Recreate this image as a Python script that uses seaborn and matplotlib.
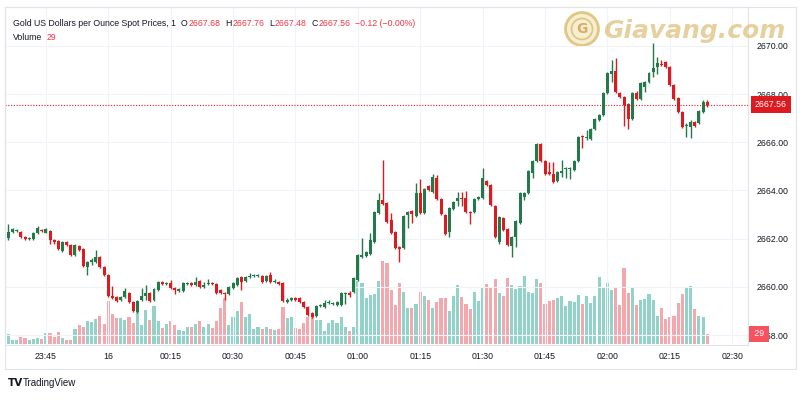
import numpy as np
import pandas as pd
import matplotlib
matplotlib.use('Agg')
import matplotlib.pyplot as plt
import matplotlib.patches as mpatches
import seaborn as sns

# 1-minute candles, 23:36 -> 02:24
opens = [2662.03, 2662.27, 2662.30, 2662.27, 2662.07, 2661.98, 2662.00, 2662.23, 2662.38, 2662.25,
         2662.30, 2661.96, 2661.90, 2661.49, 2661.88, 2661.74, 2661.32, 2661.69, 2661.57, 2660.82,
         2661.03, 2661.03, 2661.24, 2660.82, 2660.49, 2659.62, 2659.58, 2659.45, 2659.58, 2659.74,
         2659.37, 2658.95, 2659.45, 2659.62, 2659.74, 2659.45, 2659.87, 2660.20, 2660.12, 2660.16,
         2659.95, 2659.83, 2659.83, 2660.12, 2660.16, 2660.08, 2660.24, 2659.99, 2660.12, 2660.16,
         2660.12, 2659.87, 2659.74, 2659.70, 2659.95, 2660.08, 2660.41, 2660.24, 2660.41, 2660.45,
         2660.45, 2660.45, 2660.24, 2660.49, 2660.20, 2660.20, 2660.16, 2659.37, 2659.45, 2659.54,
         2659.54, 2659.37, 2659.16, 2658.91, 2658.79, 2659.20, 2659.16, 2659.33, 2659.29, 2659.25,
         2659.25, 2659.70, 2659.74, 2659.79, 2660.28, 2661.24, 2661.28, 2661.36, 2661.86, 2663.06,
         2663.60, 2663.48, 2662.77, 2662.27, 2661.65, 2661.61, 2662.98, 2663.15, 2662.94, 2663.89,
         2663.06, 2664.18, 2663.93, 2664.52, 2663.64, 2662.98, 2662.27, 2663.23, 2663.56, 2663.69,
         2663.69, 2663.10, 2663.10, 2663.64, 2663.69, 2664.39, 2664.22, 2663.35, 2661.86, 2662.86,
         2662.40, 2661.69, 2662.07, 2662.65, 2663.73, 2663.89, 2664.72, 2665.22, 2665.93, 2665.22,
         2664.76, 2664.68, 2664.39, 2664.72, 2664.89, 2664.89, 2664.85, 2665.22, 2666.26, 2666.17,
         2666.13, 2666.55, 2666.92, 2667.13, 2668.04, 2668.83, 2668.95, 2668.04, 2667.88, 2667.59,
         2666.96, 2668.04, 2667.79, 2668.29, 2668.50, 2668.91, 2669.12, 2669.24, 2669.33, 2669.12,
         2668.37, 2667.83, 2667.25, 2666.67, 2666.63, 2666.84, 2666.80, 2667.25, 2667.68]
closes = [2662.27, 2662.40, 2662.38, 2662.07, 2661.98, 2662.02, 2662.23, 2662.44, 2662.32, 2662.40,
          2661.94, 2661.88, 2661.57, 2661.86, 2661.74, 2661.32, 2661.74, 2661.53, 2660.86, 2661.03,
          2661.10, 2661.24, 2660.82, 2660.49, 2659.62, 2659.54, 2659.41, 2659.58, 2659.83, 2659.37,
          2659.00, 2659.41, 2659.62, 2659.74, 2659.41, 2659.91, 2660.20, 2660.12, 2660.16, 2659.95,
          2659.87, 2659.91, 2660.16, 2660.16, 2660.08, 2660.20, 2659.99, 2660.08, 2660.16, 2660.12,
          2659.74, 2659.74, 2659.70, 2659.99, 2660.16, 2660.37, 2660.20, 2660.41, 2660.45, 2660.49,
          2660.49, 2660.20, 2660.45, 2660.20, 2660.24, 2660.12, 2659.41, 2659.45, 2659.54, 2659.45,
          2659.37, 2659.16, 2658.83, 2658.75, 2659.20, 2659.25, 2659.33, 2659.37, 2659.33, 2659.37,
          2659.74, 2659.74, 2659.66, 2660.37, 2661.32, 2661.32, 2661.45, 2661.94, 2663.10, 2663.60,
          2663.44, 2662.69, 2662.23, 2661.61, 2661.57, 2662.94, 2663.10, 2663.02, 2663.89, 2663.06,
          2664.06, 2664.02, 2664.56, 2663.64, 2663.02, 2662.19, 2663.27, 2663.52, 2663.69, 2663.64,
          2663.10, 2663.06, 2663.64, 2663.73, 2664.52, 2664.22, 2663.39, 2662.07, 2662.90, 2662.36,
          2661.74, 2662.07, 2662.73, 2663.89, 2663.89, 2664.81, 2665.22, 2665.93, 2665.22, 2664.68,
          2664.68, 2664.35, 2664.76, 2664.81, 2664.93, 2664.93, 2665.22, 2666.22, 2666.22, 2666.22,
          2666.55, 2666.96, 2667.13, 2668.04, 2668.87, 2668.95, 2668.08, 2667.88, 2667.54, 2666.96,
          2668.04, 2667.79, 2668.46, 2668.50, 2668.87, 2669.08, 2669.29, 2669.20, 2669.12, 2668.37,
          2667.79, 2667.25, 2666.63, 2666.71, 2666.84, 2666.67, 2667.29, 2667.67, 2667.56]
highs = [2662.61, 2662.44, 2662.42, 2662.32, 2662.10, 2662.05, 2662.27, 2662.52, 2662.42, 2662.44,
         2662.34, 2661.98, 2661.93, 2661.90, 2661.92, 2661.76, 2661.78, 2661.74, 2661.60, 2661.07,
         2661.20, 2661.53, 2661.28, 2660.86, 2660.53, 2660.03, 2659.62, 2659.62, 2659.95, 2659.80,
         2659.41, 2659.45, 2659.95, 2660.08, 2659.78, 2659.95, 2660.24, 2660.24, 2660.20, 2660.28,
         2659.99, 2659.95, 2660.20, 2660.20, 2660.20, 2660.41, 2660.28, 2660.20, 2660.32, 2660.20,
         2660.16, 2659.91, 2659.78, 2660.03, 2660.20, 2660.41, 2660.45, 2660.45, 2660.57, 2660.53,
         2660.53, 2660.49, 2660.49, 2660.61, 2660.32, 2660.24, 2660.20, 2659.54, 2659.58, 2659.58,
         2659.58, 2659.41, 2659.20, 2658.95, 2659.25, 2659.29, 2659.45, 2659.45, 2659.37, 2659.41,
         2659.78, 2659.78, 2659.83, 2660.41, 2661.36, 2662.03, 2661.49, 2662.23, 2663.15, 2663.89,
         2665.26, 2663.52, 2663.06, 2662.32, 2661.69, 2662.98, 2663.15, 2663.19, 2664.31, 2664.47,
         2664.10, 2664.22, 2664.68, 2664.64, 2663.69, 2663.02, 2663.31, 2663.56, 2663.93, 2663.93,
         2663.98, 2663.15, 2663.69, 2663.77, 2664.93, 2664.43, 2664.27, 2663.39, 2662.94, 2662.90,
         2662.44, 2662.11, 2662.77, 2663.93, 2663.93, 2664.85, 2665.26, 2665.97, 2665.97, 2665.26,
         2665.18, 2665.18, 2664.81, 2665.26, 2664.97, 2664.97, 2665.26, 2666.26, 2666.30, 2666.51,
         2666.59, 2667.00, 2667.17, 2668.08, 2668.91, 2669.41, 2669.49, 2668.08, 2667.92, 2667.63,
         2668.08, 2668.12, 2668.50, 2668.54, 2668.91, 2670.11, 2669.53, 2669.41, 2669.37, 2669.16,
         2668.41, 2667.88, 2667.29, 2666.80, 2666.92, 2666.88, 2667.33, 2667.75, 2667.76]
lows = [2661.94, 2662.23, 2662.26, 2662.03, 2661.94, 2661.95, 2661.96, 2662.19, 2662.28, 2662.22,
        2661.78, 2661.78, 2661.53, 2661.45, 2661.70, 2661.28, 2661.28, 2661.49, 2660.82, 2660.49,
        2660.90, 2660.99, 2660.78, 2660.45, 2659.58, 2659.50, 2659.37, 2659.41, 2659.54, 2659.33,
        2658.95, 2658.91, 2659.41, 2659.45, 2659.37, 2659.41, 2659.83, 2660.08, 2660.08, 2659.91,
        2659.70, 2659.79, 2659.79, 2660.08, 2660.03, 2660.03, 2659.95, 2659.95, 2660.08, 2660.08,
        2659.70, 2659.70, 2659.45, 2659.66, 2659.91, 2660.03, 2659.87, 2660.20, 2660.37, 2660.41,
        2660.41, 2660.16, 2660.20, 2660.16, 2660.16, 2660.08, 2659.37, 2659.33, 2659.41, 2659.41,
        2659.33, 2659.12, 2658.79, 2658.71, 2658.75, 2659.16, 2659.12, 2659.29, 2659.25, 2659.20,
        2659.20, 2659.29, 2659.58, 2659.74, 2660.24, 2661.20, 2661.24, 2661.32, 2661.82, 2663.02,
        2663.39, 2662.65, 2662.19, 2661.57, 2661.03, 2661.57, 2662.44, 2662.65, 2662.90, 2663.02,
        2663.02, 2663.98, 2663.89, 2663.60, 2662.98, 2662.15, 2662.07, 2663.19, 2663.35, 2663.35,
        2663.06, 2662.61, 2663.06, 2663.60, 2663.64, 2664.18, 2663.35, 2662.03, 2661.78, 2662.32,
        2661.69, 2661.24, 2661.65, 2662.61, 2663.60, 2663.85, 2664.52, 2665.18, 2665.18, 2664.64,
        2664.64, 2664.31, 2664.35, 2664.56, 2664.52, 2664.47, 2664.81, 2665.18, 2665.76, 2666.09,
        2666.09, 2666.51, 2666.88, 2667.09, 2668.00, 2668.50, 2668.04, 2667.83, 2666.67, 2666.55,
        2666.92, 2667.75, 2667.75, 2668.08, 2668.46, 2668.70, 2668.83, 2669.16, 2669.08, 2668.33,
        2667.75, 2667.21, 2666.59, 2666.22, 2666.17, 2666.63, 2666.76, 2667.21, 2667.48]
volumes = [28, 12, 12, 21, 18, 12, 15, 18, 14, 33,
           33, 21, 35, 18, 12, 12, 44, 54, 48, 67,
           64, 73, 81, 58, 125, 87, 75, 75, 70, 77,
           60, 99, 55, 99, 70, 110, 67, 46, 58, 67,
           55, 41, 38, 49, 49, 58, 67, 49, 58, 46,
           67, 104, 133, 55, 78, 96, 122, 78, 87, 44,
           49, 44, 49, 44, 41, 44, 107, 75, 78, 46,
           44, 61, 78, 78, 70, 70, 38, 61, 70, 61,
           78, 49, 38, 49, 183, 177, 133, 142, 145, 183,
           241, 235, 157, 113, 177, 151, 104, 104, 116, 151,
           139, 128, 104, 122, 133, 133, 96, 139, 171, 136,
           116, 102, 151, 125, 165, 174, 162, 189, 148, 139,
           191, 171, 160, 168, 197, 151, 148, 189, 177, 116,
           125, 128, 133, 139, 110, 125, 122, 142, 116, 139,
           119, 139, 194, 165, 177, 157, 162, 113, 220, 148,
           162, 113, 128, 130, 145, 128, 81, 104, 73, 78,
           81, 119, 145, 162, 168, 102, 81, 78, 29]

time_labels = ['23:45', '16', '00:15', '00:30', '00:45', '01:00', '01:15',
               '01:30', '01:45', '02:00', '02:15', '02:30']
first_label_bar = 9  # 23:45 is the 10th one-minute bar
price_ticks = [2658, 2660, 2662, 2664, 2666, 2668, 2670]

UP, DOWN = '#22794a', '#dc1a1f'
VOL_UP, VOL_DOWN = '#92d3c9', '#f5a7ae'
TXT, GRID, BORDER = '#131722', '#f0f3fa', '#e0e3eb'
RED_TXT = '#f23645'
FS = 6.3

sns.set_style('white')
plt.rcParams['font.family'] = ['Liberation Sans', 'DejaVu Sans']

df = pd.DataFrame({'open': opens, 'high': highs, 'low': lows,
                   'close': closes, 'volume': volumes})
df['x'] = np.arange(len(df))
df['dir'] = np.where(df.close >= df.open, 'up', 'down')
cols = df.dir.map({'up': UP, 'down': DOWN})

W, H = 800, 400
fig = plt.figure(figsize=(8, 4), dpi=100)
fig.patch.set_facecolor('white')
ax = fig.add_axes([5 / W, 1 - 345 / H, (748 - 5) / W, (345 - 7) / H])
axv = ax.twinx()
ax.set_zorder(axv.get_zorder() + 1)
ax.patch.set_visible(False)

# volume overlay
sns.barplot(data=df, x='x', y='volume', hue='dir', palette={'up': VOL_UP, 'down': VOL_DOWN},
            native_scale=True, dodge=False, width=0.75, errorbar=None, saturation=1,
            linewidth=0, legend=False, ax=axv)
axv.set_ylim(-2.9, 977)
axv.set_yticks([])
axv.set_xlabel('')
axv.set_ylabel('')
for s in axv.spines.values():
    s.set_visible(False)

# candles
ax.vlines(df.x, df.low, df.high, colors=cols, lw=1.0, zorder=3)
body_lo = np.minimum(df.open, df.close)
body_h = np.maximum((df.close - df.open).abs(), 0.03)
ax.bar(df.x, body_h, bottom=body_lo, width=0.72, color=cols, linewidth=0, zorder=4)

last = closes[-1]
ax.axhline(last, color=DOWN, lw=0.8, ls=(0, (1, 1.5)), zorder=2)

ax.set_xlim(-0.82, 177.8)
ax.set_ylim(2657.59, 2671.61)
tick_pos = first_label_bar + 15 * np.arange(len(time_labels))
ax.set_xticks(tick_pos, time_labels)
ax.set_yticks(price_ticks, [f'{p:.2f}' for p in price_ticks])
ax.yaxis.tick_right()
ax.tick_params(axis='y', length=0, pad=6.5, labelsize=FS, colors=TXT)
ax.tick_params(axis='x', length=0, pad=4.8, labelsize=FS, colors=TXT)
ax.grid(True, color=GRID, lw=0.8)
ax.set_xlabel('')
ax.set_ylabel('')
for s in ax.spines.values():
    s.set_color(BORDER)
    s.set_linewidth(0.8)

# last price / volume tags on the right scale (drawn on the top axes)
ax.annotate(f'{last:.2f}', xy=(1, last), xycoords=('axes fraction', 'data'),
            xytext=(5, 0), textcoords='offset points', ha='left', va='center',
            fontsize=FS, color='white', zorder=10, annotation_clip=False,
            bbox=dict(boxstyle='square,pad=0.45', fc=DOWN, ec='none'))
ax.annotate(f' {volumes[-1]} ', xy=(1, volumes[-1]), xycoords=('axes fraction', axv.transData),
            xytext=(2.6, 0), textcoords='offset points', ha='left', va='center',
            fontsize=FS, color='white', zorder=10, annotation_clip=False,
            bbox=dict(boxstyle='square,pad=0.35', fc='#f7525f', ec='none'))

# widget frame
fig.add_artist(mpatches.Rectangle((5 / W, 1 - 369 / H), (796 - 5) / W, (369 - 7) / H,
                                  transform=fig.transFigure, fill=False, ec=BORDER, lw=0.8))

# legend header, laid out piece by piece
renderer = fig.canvas.get_renderer()


def ftxt(px, py, s, color=TXT):
    t = fig.text(px / W, 1 - py / H, s, color=color, ha='left', va='center', fontsize=FS)
    return px + t.get_window_extent(renderer).width


x = ftxt(13, 23, 'Gold US Dollars per Ounce Spot Prices, 1') + 5
for letter, val in [('O', opens[-1]), ('H', highs[-1]), ('L', lows[-1]), ('C', closes[-1])]:
    x = ftxt(x, 23, letter) + 0.5
    x = ftxt(x, 23, f'{val:.2f}', color=RED_TXT) + 5
chg = closes[-1] - opens[-1]
ftxt(x, 23, f'\u2212{abs(chg):.2f} (\u2212{abs(chg) / opens[-1] * 100:.2f}%)', color=RED_TXT)
x = ftxt(13, 37, 'Volume') + 4
ftxt(x, 37, f'{volumes[-1]}', color=RED_TXT)

# watermark
coin_c = (5.82, 4 - 0.29)
fig.add_artist(mpatches.Circle(coin_c, 0.165, transform=fig.dpi_scale_trans,
                               fc='#f4e6bd', ec='#d6b35c', lw=2, alpha=0.7))
fig.add_artist(mpatches.Circle(coin_c, 0.105, transform=fig.dpi_scale_trans,
                               fc='none', ec='#d6b35c', lw=1.2, alpha=0.7))
fig.text(5.82 / 8, 1 - 0.29 / 4, 'G', ha='center', va='center', fontsize=10,
         color='#c9a04a', fontweight='bold', family='DejaVu Sans', alpha=0.8)
fig.text(603 / W, 1 - 31 / H, 'Giavang.com', ha='left', va='center', fontsize=18,
         color='#d6b25e', fontweight='bold', style='italic', family='DejaVu Sans', alpha=0.6)

# footer logo
fig.text(8 / W, 1 - 383 / H, 'TV', ha='left', va='center', fontsize=7.5,
         fontweight='bold', color=TXT, family='DejaVu Sans')
fig.text(23 / W, 1 - 383 / H, 'TradingView', ha='left', va='center', fontsize=7, color=TXT)

fig.savefig('out.png', dpi=100, facecolor='white')
